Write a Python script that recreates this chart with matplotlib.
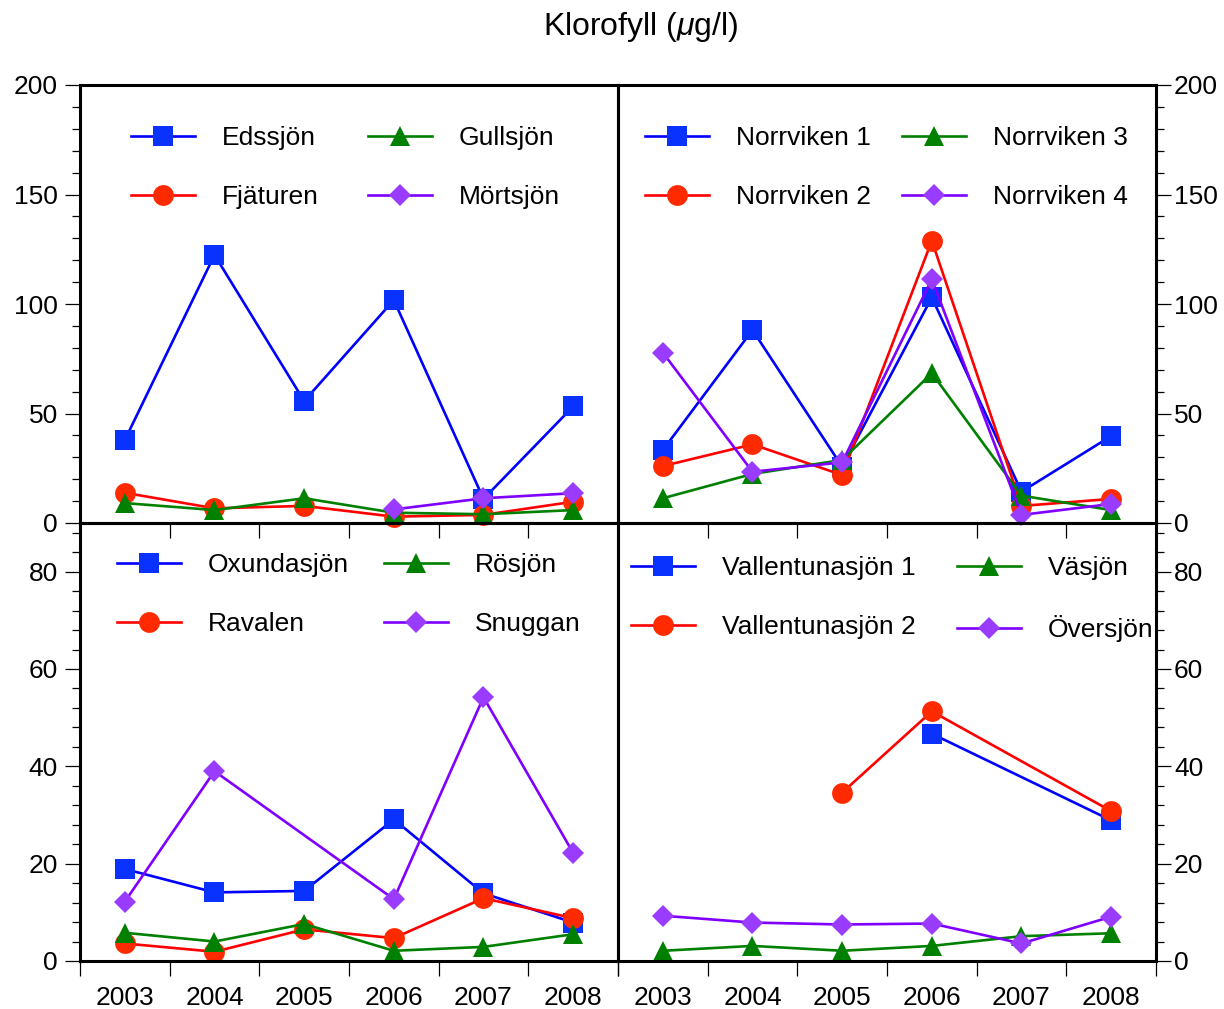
import numpy as np
import matplotlib
matplotlib.use("Agg")
import matplotlib.pyplot as plt
from matplotlib.legend import Legend
from matplotlib.ticker import MultipleLocator, FixedLocator, NullFormatter

plt.rcParams['font.family'] = ['Liberation Sans', 'DejaVu Sans']
plt.rcParams['mathtext.fontset'] = 'custom'
plt.rcParams['mathtext.rm'] = 'Liberation Sans'
plt.rcParams['mathtext.it'] = 'Liberation Sans:italic'

nan = np.nan
years = [2003, 2004, 2005, 2006, 2007, 2008]
year_labels = ["2003", "2004", "2005", "2006", "2007", "2008"]

# top left
names_tl = ["Edssjön", "Fjäturen", "Gullsjön", "Mörtsjön"]
edssjon = [37.9, 122.4, 55.7, 101.8, 11.0, 53.2]
fjaturen = [13.8, 6.7, 7.8, 2.9, 3.7, 9.7]
gullsjon = [9.1, 5.9, 11.3, 4.7, 4.0, 5.9]
mortsjon = [nan, nan, nan, 6.2, 11.3, 13.6]

# top right
names_tr = ["Norrviken 1", "Norrviken 2", "Norrviken 3", "Norrviken 4"]
norrviken1 = [33.3, 88.1, 25.7, 103.0, 14.3, 39.7]
norrviken2 = [26.0, 35.9, 21.9, 128.9, 7.8, 11.0]
norrviken3 = [11.3, 22.4, 28.8, 68.4, 12.5, 5.9]
norrviken4 = [77.8, 23.4, 27.7, 111.3, 3.7, 8.7]

# bottom left
names_bl = ["Oxundasjön", "Ravalen", "Rösjön", "Snuggan"]
oxundasjon = [18.9, 14.1, 14.4, 29.1, 13.9, 7.9]
ravalen = [3.6, 1.9, 6.5, 4.7, 12.9, 8.8]
rosjon = [5.8, 4.0, 7.6, 2.1, 2.9, 5.5]
snuggan = [12.2, 39.0, nan, 12.7, 54.2, 22.2]

# bottom right
names_br = ["Vallentunasjön 1", "Vallentunasjön 2", "Väsjön", "Översjön"]
vallentuna1 = [nan, nan, nan, 46.7, nan, 28.9]
vallentuna2 = [nan, nan, 34.6, 51.3, nan, 30.8]
vasjon = [2.1, 3.1, 2.1, 3.1, 5.1, 5.7]
oversjon = [9.3, 7.9, 7.5, 7.7, 3.6, 9.1]

line_colors = ['#0000ff', '#ff0000', '#008000', '#8000ff']
marker_colors = ['#0a32ff', '#ff2a00', '#008000', '#9a3cff']
markers = ['s', 'o', '^', 'D']
msizes = [15, 15, 14, 11]
FS = 19

W, H = 1224, 1009
fig = plt.figure(figsize=(W / 100, H / 100), dpi=100)


def fx(px):
    return px / W


def fy(py):
    return 1 - py / H


panels = [
    # (left, top, right, bottom) in px, series, names, ymax, major, minor, side, xlabels, legend pos
    ((80, 85, 618, 523), [edssjon, fjaturen, gullsjon, mortsjon], names_tl,
     200, 50, 10, 'left', False, (131, 368, 136)),
    ((618, 85, 1156, 523), [norrviken1, norrviken2, norrviken3, norrviken4], names_tr,
     200, 50, 10, 'right', False, (645, 902, 136)),
    ((80, 523, 618, 961), [oxundasjon, ravalen, rosjon, snuggan], names_bl,
     90, 20, 4, 'left', True, (117, 384, 563)),
    ((618, 523, 1156, 961), [vallentuna1, vallentuna2, vasjon, oversjon], names_br,
     90, 20, 4, 'right', True, (631, 957, 566)),
]

for (l, t, r, b), series, names, ymax, major, minor, side, xlab, legpos in panels:
    ax = fig.add_axes([fx(l), fy(b), fx(r - l), (b - t) / H])
    ax.patch.set_visible(False)
    handles = []
    for i, vals in enumerate(series):
        v = np.array(vals, dtype=float)
        x = np.array(years, dtype=float)
        ok = ~np.isnan(v)
        h, = ax.plot(x[ok], v[ok], color=line_colors[i], lw=1.9,
                     marker=markers[i], ms=msizes[i], mfc=marker_colors[i],
                     mec=marker_colors[i], mew=0, label=names[i], clip_on=False)
        handles.append(h)

    ax.set_xlim(2002.5, 2008.5)
    ax.set_ylim(0, ymax)
    for s in ax.spines.values():
        s.set_linewidth(2.2)

    ax.yaxis.set_major_locator(MultipleLocator(major))
    ax.yaxis.set_minor_locator(MultipleLocator(minor))
    if side == 'right':
        ax.yaxis.tick_right()
        ax.tick_params(axis='y', which='both', left=False, right=True,
                       labelleft=False, labelright=True, pad=2)
    else:
        ax.tick_params(axis='y', which='both', left=True, right=False, pad=5)
    ax.tick_params(axis='y', which='major', direction='out', length=11, width=0.9,
                   labelsize=FS)
    ax.tick_params(axis='y', which='minor', direction='out', length=6, width=0.9)

    ax.xaxis.set_major_locator(FixedLocator([2002.5 + k for k in range(7)]))
    ax.xaxis.set_major_formatter(NullFormatter())
    ax.tick_params(axis='x', which='major', direction='out', length=11, width=0.9,
                   top=False, bottom=True)
    if xlab:
        ax.set_xticks(years, minor=True)
        ax.set_xticklabels(year_labels, minor=True)
        ax.tick_params(axis='x', which='minor', length=0, pad=18, labelsize=FS)
    else:
        ax.xaxis.set_minor_locator(FixedLocator([]))

    x1, x2, yrow = legpos
    for j, xs in enumerate([x1, x2]):
        hs = handles[2 * j:2 * j + 2]
        leg = Legend(ax, hs, [h.get_label() for h in hs], loc='upper left',
                     bbox_to_anchor=(fx(xs), fy(yrow - 10)),
                     bbox_transform=fig.transFigure, frameon=False,
                     fontsize=FS, handlelength=2.42, handletextpad=1.02,
                     labelspacing=1.34, borderpad=0, borderaxespad=0,
                     numpoints=1)
        ax.add_artist(leg)

fig.text(fx(641), fy(27), r'Klorofyll ($\mu$g/l)', ha='center', va='center',
         fontsize=23)

fig.savefig("out.png", dpi=100)
